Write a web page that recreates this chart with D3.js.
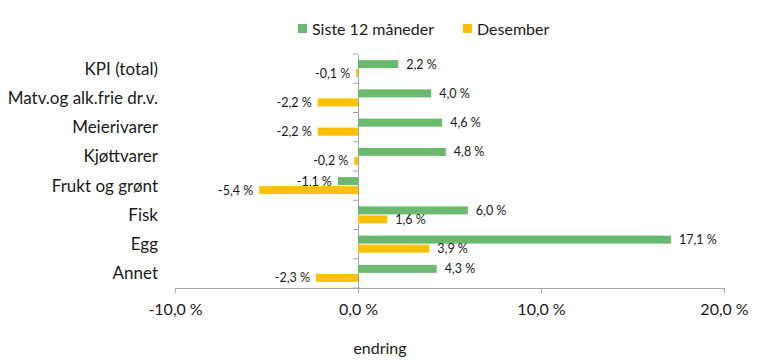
<html>
<head>
<meta charset="utf-8" />
<script src="https://d3js.org/d3.v7.min.js"></script>
<style>
  body { margin: 0; background: #fff; }
  text { font-family: Lato, "Liberation Sans", sans-serif; fill: #1a1a1a; }
</style>
</head>
<body>
<div id="chart"></div>
<script>
  // kategorier og verdier (prosent endring)
  const kategorier = ["KPI (total)", "Matv.og alk.frie dr.v.", "Meierivarer", "Kjøttvarer",
                      "Frukt og grønt", "Fisk", "Egg", "Annet"];
  const siste12 = [2.2, 4.0, 4.6, 4.8, -1.1, 6.0, 17.1, 4.3];
  const desember = [-0.1, -2.2, -2.2, -0.2, -5.4, 1.6, 3.9, -2.3];
  const serier = ["Siste 12 måneder", "Desember"];
  const farger = ["#6ab96f", "#ffc000"];
  const xTicks = [-10, 0, 10, 20];

  const fmt = v => d3.format(".1f")(v).replace(".", ",").replace("−", "-") + "\u202f%";

  const W = 768, H = 363;
  const svg = d3.select("#chart").append("svg")
    .attr("width", W).attr("height", H);

  const x = d3.scaleLinear().domain([-10, 20]).range([175, 724]);
  const y = d3.scaleBand().domain(kategorier).range([54, 288]);

  // akser
  const xAxis = svg.append("g").attr("transform", "translate(0,288)")
    .call(d3.axisBottom(x).tickValues(xTicks).tickSize(5).tickPadding(11).tickFormat(fmt));
  xAxis.selectAll("text").style("font-size", "16px").attr("fill", "#1a1a1a");

  const yAxis = svg.append("g").attr("transform", "translate(" + x(0) + ",0)")
    .call(d3.axisLeft(y).tickSize(0).tickFormat(""));
  // tick streker mellom kategoriene
  yAxis.selectAll(".skille").data(d3.range(kategorier.length + 1)).enter()
    .append("line").attr("class", "skille")
    .attr("x1", -5).attr("x2", 0)
    .attr("y1", i => y.range()[0] + i * y.step())
    .attr("y2", i => y.range()[0] + i * y.step());
  svg.selectAll(".domain, .tick line, .skille").attr("stroke", "#a6a6a6");

  // kategoritekster
  svg.append("g").selectAll("text").data(kategorier).enter().append("text")
    .attr("x", 158).attr("y", d => y(d) + y.bandwidth() / 2)
    .attr("dy", "0.35em").attr("text-anchor", "end")
    .style("font-size", "17px").text(d => d);

  const barH = 8;
  const grupper = [siste12, desember];
  grupper.forEach((verdier, s) => {
    const g = svg.append("g");
    const yb = (d, i) => y(kategorier[i]) + y.bandwidth() / 2 - barH - 0.5 + s * (barH + 1);
    g.selectAll("rect").data(verdier).enter().append("rect")
      .attr("x", d => x(Math.min(0, d)))
      .attr("width", d => Math.abs(x(d) - x(0)))
      .attr("y", yb).attr("height", barH)
      .attr("fill", farger[s]);
    g.selectAll("text").data(verdier).enter().append("text")
      .attr("x", d => d >= 0 ? x(d) + 8 : x(d) - 6)
      .attr("y", (d, i) => yb(d, i) + barH / 2)
      .attr("dy", "0.35em")
      .attr("text-anchor", d => d >= 0 ? "start" : "end")
      .style("font-size", "12.5px").text(fmt);
  });

  // legende
  const leg = svg.append("g");
  const legX = [298, 463];
  serier.forEach((n, i) => {
    leg.append("rect").attr("x", legX[i]).attr("y", 24).attr("width", 9).attr("height", 9)
      .attr("fill", farger[i]);
    leg.append("text").attr("x", legX[i] + 14).attr("y", 29).attr("dy", "0.35em")
      .style("font-size", "16px").text(n);
  });

  svg.append("text").attr("x", 380).attr("y", 348).attr("dy", "0.35em")
    .attr("text-anchor", "middle").style("font-size", "16px").text("endring");
</script>
</body>
</html>
